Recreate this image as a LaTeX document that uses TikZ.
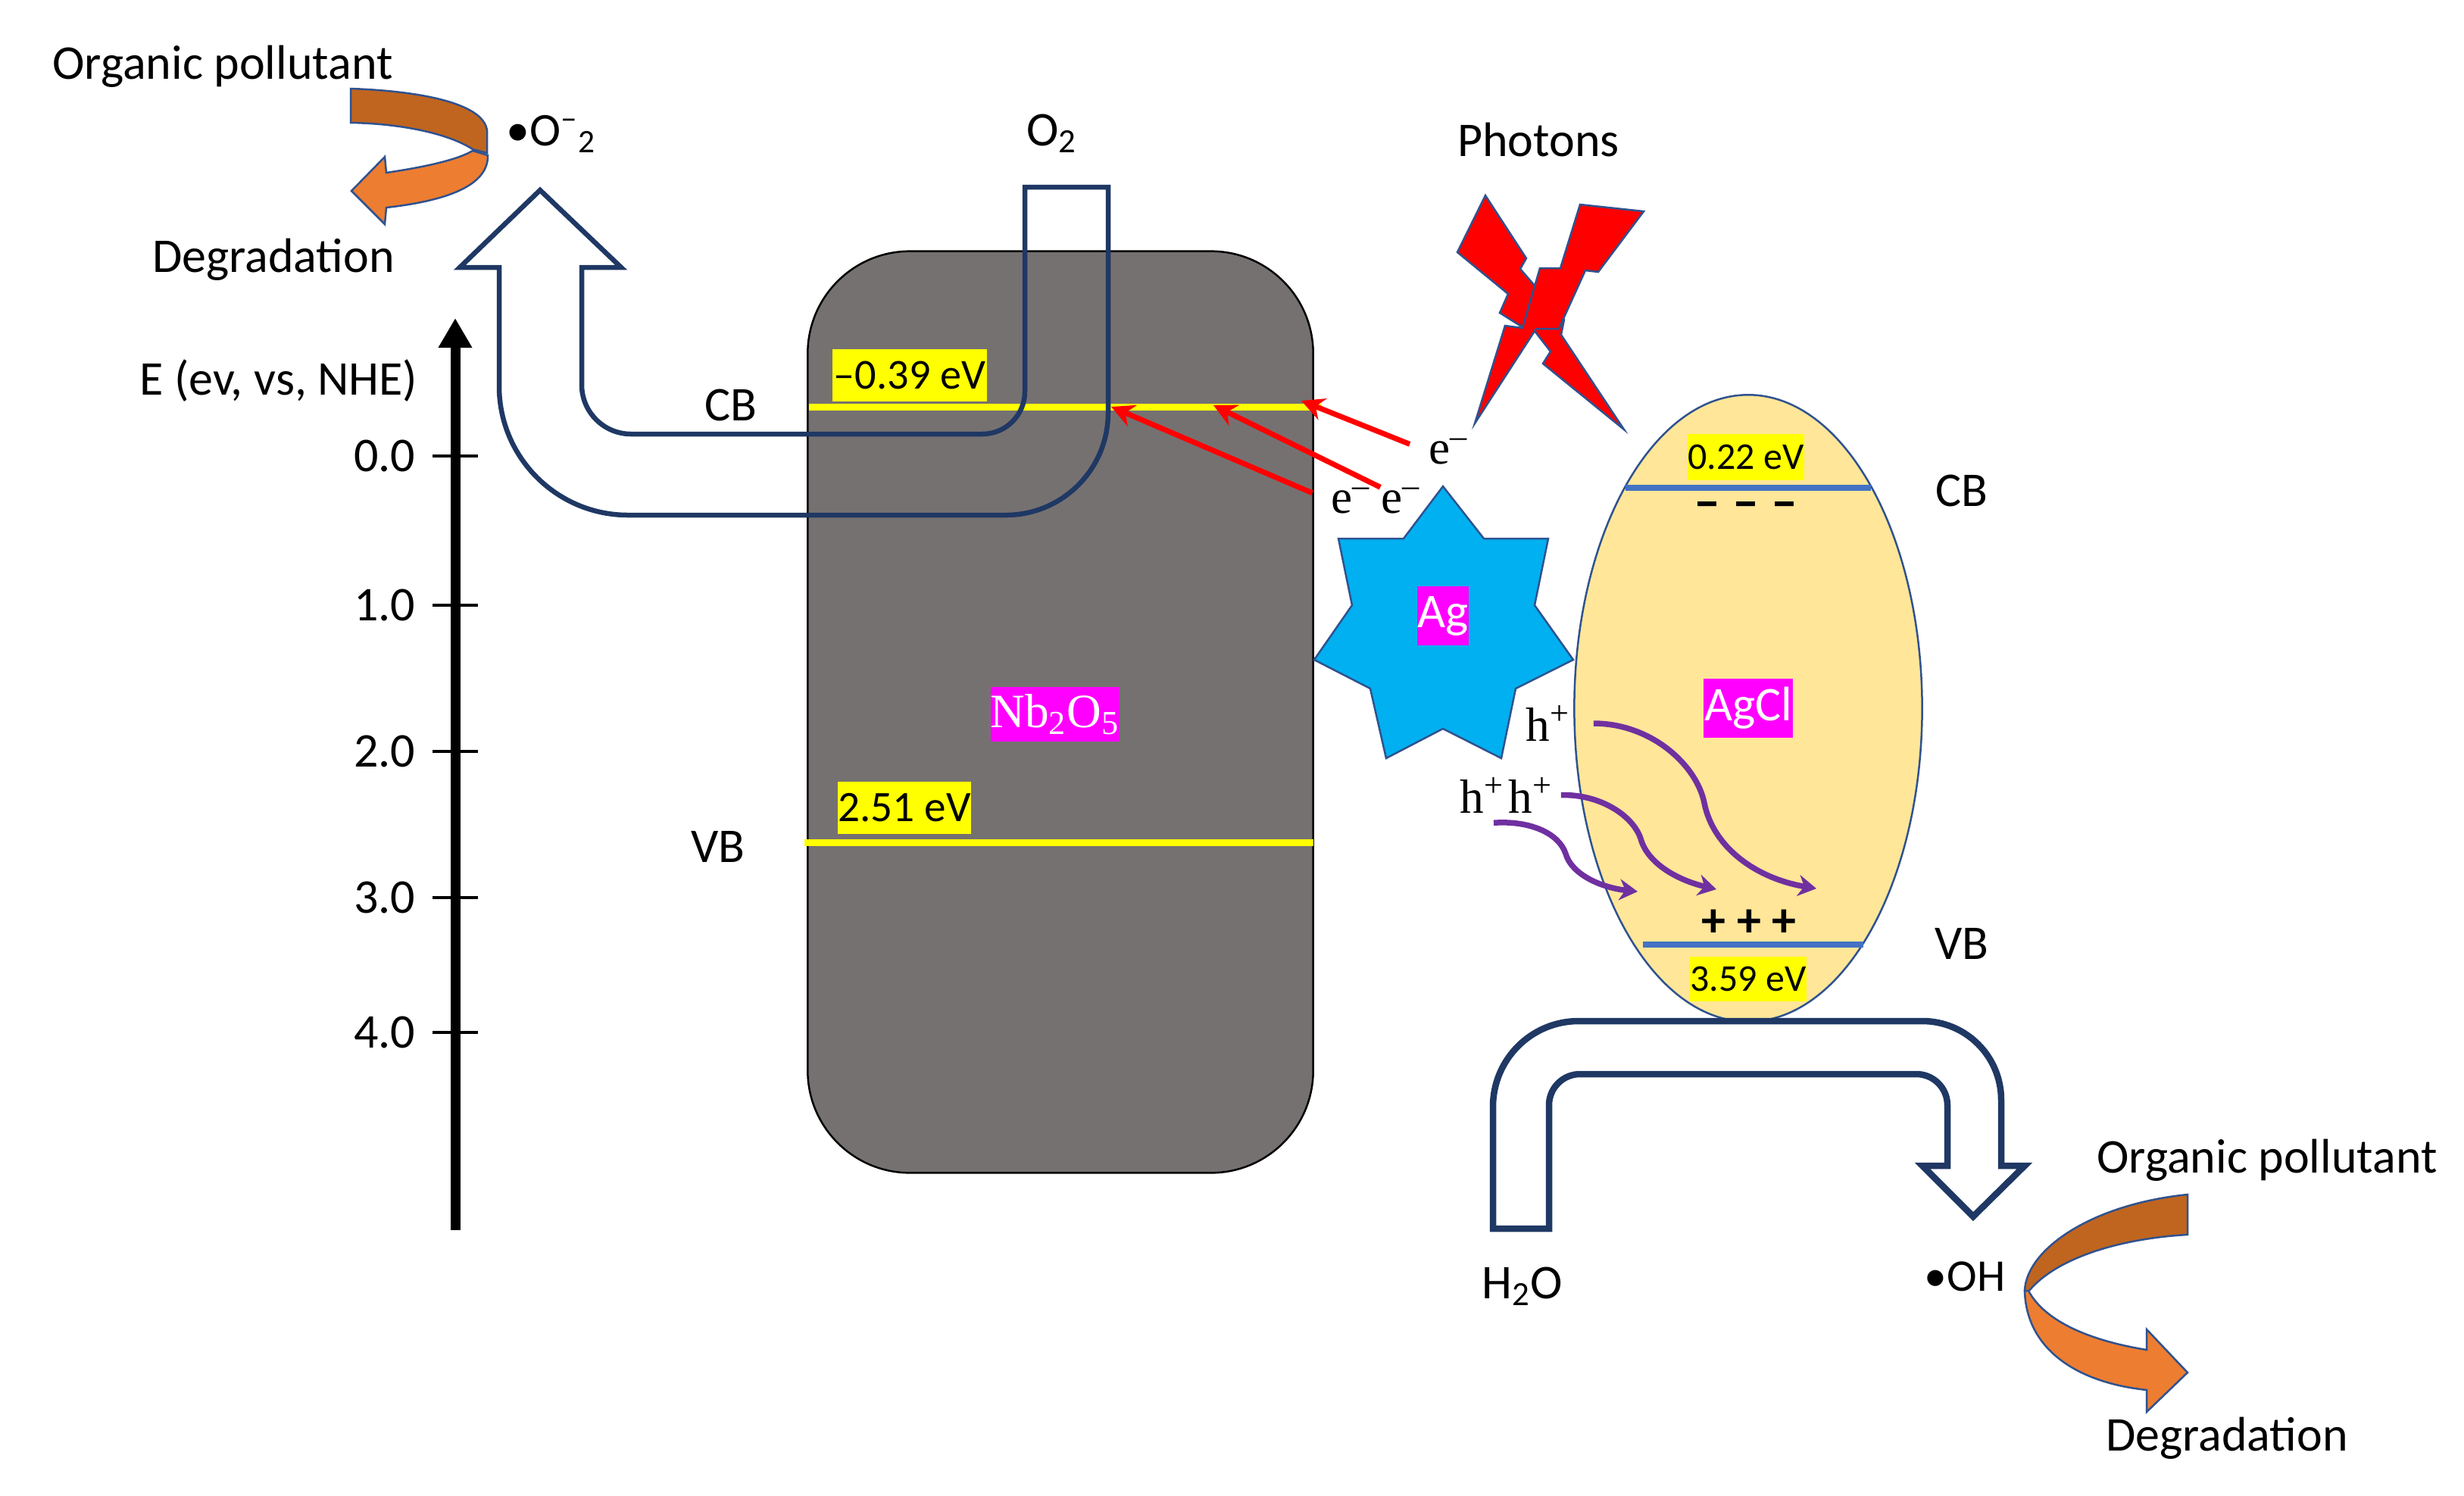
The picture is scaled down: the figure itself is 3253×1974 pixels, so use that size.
\documentclass[tikz,border=0pt]{standalone}
\usepackage{fontspec}
\setmainfont{Carlito}
\newfontfamily\timesfont{Liberation Serif}
\usetikzlibrary{arrows.meta,shapes.geometric,positioning}
\definecolor{edgeblue}{HTML}{2F528F}
\definecolor{hollowblue}{HTML}{1F3864}
\definecolor{bandblue}{HTML}{4472C4}
\definecolor{graybody}{HTML}{767171}
\definecolor{sandbody}{HTML}{FFE699}
\definecolor{starblue}{HTML}{00B0F0}
\definecolor{swirldark}{HTML}{C0651F}
\definecolor{swirllight}{HTML}{ED7D31}
\definecolor{holepurple}{HTML}{7030A0}
\definecolor{hiyellow}{HTML}{FFFF00}
\definecolor{hipink}{HTML}{FF00FF}
\definecolor{hotred}{HTML}{FF0000}
\begin{document}
\begin{tikzpicture}[x=0.01cm,y=-0.01cm,font=\fontsize{18.2}{20}\selectfont]
  \tikzstyle{txt}=[inner sep=0pt]
  \tikzstyle{serif}=[inner sep=0pt,font=\fontsize{18}{20}\selectfont\timesfont]
  \tikzstyle{yellowbox}=[fill=hiyellow,inner sep=0pt,text=black]
  \tikzstyle{pinkbox}=[fill=hipink,inner sep=0pt,text=white]
  \tikzstyle{hollow}=[draw=hollowblue,line width=0.065cm,line join=miter]
  \tikzstyle{thinedge}=[draw=edgeblue,line width=0.025cm]
  \tikzstyle{yellowline}=[draw=hiyellow,line width=0.09cm]
  \tikzstyle{blueline}=[draw=bandblue,line width=0.075cm]
  \tikzstyle{redarrow}=[draw=hotred,line width=0.07cm,-{Stealth[length=0.3cm,width=0.3cm]}]
  \tikzstyle{purplearrow}=[draw=holepurple,line width=0.075cm,-{Stealth[length=0.24cm,width=0.28cm]}]
  \useasboundingbox (0,0) rectangle (3253,1974);

  % bodies
  \node[draw=black,line width=0.025cm,fill=graybody,rounded corners=1.35cm,minimum width=6.67cm,minimum height=12.16cm] (nb) at (1400,940) {};
  \node[ellipse,thinedge,fill=sandbody,inner sep=0pt,minimum width=4.59cm,minimum height=8.27cm] (agcl) at (2308,935) {};
  \draw[thinedge,fill=starblue] (1905,642) -- (1959,711) -- (2044,711) -- (2026,799) -- (2077,871) -- (2001,909) -- (1982,1001) -- (1905,962) -- (1830,1001) -- (1809,909) -- (1735,871) -- (1785,799) -- (1767,711) -- (1853,711) -- cycle;

  % photons
  \draw[thinedge,fill=hotred] (1961,258) -- (2015,341) -- (2007,355) -- (2065,422) -- (2061,442) -- (2144,567) -- (2037,480) -- (2047,464) -- (2026,437) -- (2007,430) -- (1980,413) -- (1991,388) -- (1924,333) -- cycle;
  \draw[thinedge,fill=hotred] (2086,270) -- (2170,279) -- (2110,359) -- (2093,357) -- (2058,434) -- (2028,434) -- (1947,559) -- (1987,430) -- (2010,433) -- (2033,354) -- (2060,354) -- cycle;
  \node[txt] (photons) at (2031,184) {Photons};

  % band edges
  \coordinate (cbl) at (1068,537);
  \coordinate (cbr) at (1745,537);
  \coordinate (vbl) at (1062,1112);
  \coordinate (vbr) at (1734,1112);
  \coordinate (ccbl) at (2146,644);
  \coordinate (ccbr) at (2470,644);
  \coordinate (cvbl) at (2169,1247);
  \coordinate (cvbr) at (2460,1247);
  \draw[yellowline] (cbl) -- (cbr);
  \draw[yellowline] (vbl) -- (vbr);
  \draw[blueline] (ccbl) -- (ccbr);
  \draw[blueline] (cvbl) -- (cvbr);

  \node[yellowbox,minimum width=2.03cm,minimum height=0.69cm,font=\fontsize{16}{20}\selectfont] (cbval) at (1201,495) {–0.39 eV};
  \node[yellowbox,minimum width=1.76cm,minimum height=0.69cm,font=\fontsize{16.3}{20}\selectfont] (vbval) at (1194,1066) {2.51 eV};
  \node[yellowbox,minimum width=1.54cm,minimum height=0.61cm,font=\fontsize{14.2}{20}\selectfont] (ccbval) at (2305,603) {0.22 eV};
  \node[yellowbox,minimum width=1.53cm,minimum height=0.59cm,font=\fontsize{14.2}{20}\selectfont] (cvbval) at (2308,1292) {3.59 eV};
  \node[pinkbox,minimum width=1.68cm,minimum height=0.72cm,font=\fontsize{18}{20}\selectfont\timesfont] (nblbl) at (1393,943) {Nb\textsubscript{2}O\textsubscript{5}};
  \node[pinkbox,minimum width=0.68cm,minimum height=0.78cm] (aglbl) at (1905,813) {Ag};
  \node[pinkbox,minimum width=1.17cm,minimum height=0.78cm] (agcllbl) at (2308,935) {AgCl};
  \node[txt,font=\fontsize{20}{20}\selectfont\bfseries] (minus) at (2305,674) {– – –};
  \node[txt,font=\fontsize{18.2}{20}\selectfont\bfseries] (plus) at (2309,1219) {+ + +};

  \node[txt] (cbnb) at (965,535) {CB};
  \node[txt] (vbnb) at (948,1118) {VB};
  \node[txt] (cbagcl) at (2590,648) {CB};
  \node[txt] (vbagcl) at (2590,1246) {VB};

  % electrons
  \node[serif] (ea) at (1912,596) {e\textsuperscript{–}};
  \node[serif] (ec) at (1783,661) {e\textsuperscript{–}};
  \node[serif] (eb) [right of=ec,node distance=0.66cm] {e\textsuperscript{–}};
  \coordinate (ta) at (1718,529);
  \coordinate (tb) at (1602,535);
  \coordinate (tc) at (1467,537);
  \draw[redarrow,shorten <=0.26cm] (ea.west) -- (ta);
  \draw[redarrow] (eb.north west) -- (tb);
  \draw[redarrow,shorten <=0.26cm] (ec.west) -- (tc);

  % holes
  \node[serif] (ha) at (2044,955) {h\textsuperscript{+}};
  \node[serif] (hc) at (1957,1050) {h\textsuperscript{+}};
  \node[serif] (hb) [right of=hc,node distance=0.64cm] {h\textsuperscript{+}};
  \coordinate (pa) at (2398,1173);
  \coordinate (pb) at (2266,1174);
  \coordinate (pc) at (2162,1177);
  \draw[purplearrow,shorten <=0.3cm] (ha.east) .. controls (2180,955) and (2240,1010) .. (2250,1060) .. controls (2262,1120) and (2320,1160) .. (pa);
  \draw[purplearrow,shorten <=0.1cm] (hb.east) .. controls (2110,1048) and (2155,1075) .. (2166,1107) .. controls (2175,1140) and (2215,1162) .. (pb);
  \draw[purplearrow] (hc.south) ++(15,12) .. controls (2020,1083) and (2058,1100) .. (2067,1127) .. controls (2075,1155) and (2115,1172) .. (pc);

  % hollow arrows
  \draw[hollow] (713,251) -- (820,353) -- (768,353) [rounded corners=0.65cm] -- (768,573) [rounded corners=0.56cm] -- (1353,573) [sharp corners] -- (1353,247) -- (1463,247) [rounded corners=1.35cm] -- (1463,680) [rounded corners=1.7cm] -- (659,680) [sharp corners] -- (659,353) -- (607,353) -- cycle;
  \draw[hollow,line width=0.085cm] (1971,1622) [rounded corners=1.13cm] -- (1971,1348) [rounded corners=1.04cm] -- (2642,1348) [sharp corners] -- (2642,1539) -- (2673,1539) -- (2605,1606) -- (2538,1539) -- (2571,1539) [rounded corners=0.41cm] -- (2571,1418) -- (2045,1418) [sharp corners] -- (2045,1622) -- cycle;

  % pollutant swirls
  \draw[thinedge,fill=swirldark] (463,117) .. controls (550,120) and (638,135) .. (643,172) -- (643,202) -- (624,197) .. controls (590,175) and (525,163) .. (463,162) -- cycle;
  \draw[thinedge,fill=swirllight] (624,199) .. controls (600,213) and (550,222) .. (510,228) -- (508,207) -- (464,252) -- (508,296) -- (510,274) .. controls (590,265) and (645,245) .. (644,205) -- cycle;
  \draw[thinedge,fill=swirldark] (2888,1577) .. controls (2760,1590) and (2675,1650) .. (2673,1704) -- (2678,1705) .. controls (2715,1660) and (2800,1635) .. (2888,1630) -- cycle;
  \draw[thinedge,fill=swirllight] (2678,1704) .. controls (2700,1745) and (2760,1770) .. (2834,1782) -- (2834,1755) -- (2888,1812) -- (2834,1864) -- (2834,1835) .. controls (2740,1825) and (2675,1780) .. (2673,1704) -- cycle;

  \node[txt] (orga) at (294,88) {Organic pollutant};
  \node[txt] (dega) at (361,343) {Degradation};
  \node[txt] (orgb) at (2993,1532) {Organic pollutant};
  \node[txt] (degb) at (2940,1899) {Degradation};
  \node[txt,font=\fontsize{17.6}{20}\selectfont] (radical) at (728,177) {•O\textsuperscript{–}\textsubscript{2}};
  \node[txt] (oxygen) at (1389,176) {O\textsubscript{2}};
  \node[txt] (water) at (2010,1698) {H\textsubscript{2}O};
  \node[txt,font=\fontsize{17}{20}\selectfont] (hydroxyl) at (2594,1685) {•OH};

  % energy axis
  \coordinate (axisbot) at (601,1624);
  \coordinate (axistop) at (601,420);
  \draw[line width=0.13cm,-{Triangle[length=0.39cm,width=0.42cm]}] (axisbot) -- (axistop);
  \node[txt,anchor=east] (axislbl) at (552,503) {E (ev, vs, NHE)};
  \foreach \y/\t/\n in {602/0.0/a,799/1.0/b,992/2.0/c,1185/3.0/d,1363/4.0/e}{
    \node[txt,anchor=east] (tick\n) at (549,\y) {\t};
    \coordinate (tl\n) at (571,\y);
    \coordinate (tr\n) at (631,\y);
    \draw[line width=0.04cm] (tl\n) -- (tr\n);
  }
\end{tikzpicture}
\end{document}
